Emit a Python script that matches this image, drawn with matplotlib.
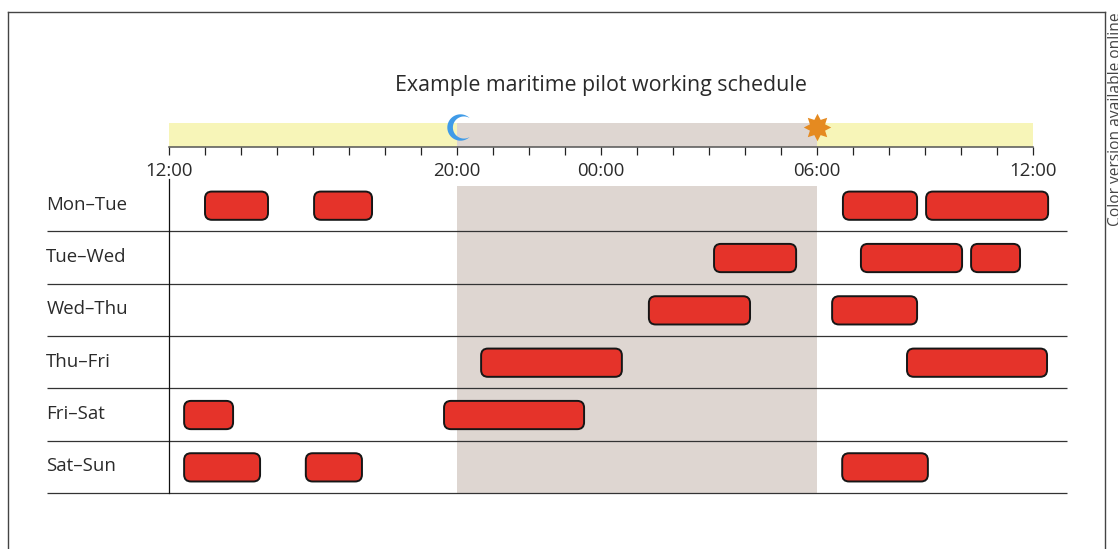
import numpy as np
import matplotlib
matplotlib.use("Agg")
import matplotlib.pyplot as plt
from matplotlib.lines import Line2D
from matplotlib.patches import FancyBboxPatch
from matplotlib.path import Path

plt.rcParams['font.family'] = ['Open Sans', 'DejaVu Sans']

W = 1118; H = 549
title = "Example maritime pilot working schedule"
side_note = "Color version available online"
days = ["Mon–Tue", "Tue–Wed", "Wed–Thu", "Thu–Fri", "Fri–Sat", "Sat–Sun"]
# shifts per row, hours after 12:00 (start, end)
shifts_mon = [(1.0, 2.75), (4.03, 5.64), (18.72, 20.78), (21.03, 24.42)]
shifts_tue = [(15.14, 17.42), (19.22, 22.03), (22.28, 23.64)]
shifts_wed = [(13.33, 16.14), (18.42, 20.78)]
shifts_thu = [(8.67, 12.58), (20.5, 24.39)]
shifts_fri = [(0.42, 1.78), (7.64, 11.53)]
shifts_sat = [(0.42, 2.53), (3.8, 5.36), (18.7, 21.08)]
shifts = [shifts_mon, shifts_tue, shifts_wed, shifts_thu, shifts_fri, shifts_sat]
night_start = 8
night_end = 18
tick_hours = list(range(25))
tick_names = {0: "12:00", 8: "20:00", 12: "00:00", 18: "06:00", 24: "12:00"}

YELLOW = "#f7f5b8"
NIGHT = "#ded6d1"
RED = "#e5332a"
TEXT = "#2a2a2a"

def box(l, t, r, b):
    return [l / W, 1 - b / H, (r - l) / W, (b - t) / H]

fig = plt.figure(figsize=(W / 100, H / 100), dpi=100)

# outer frame, bottom is cut off in the scan
for xs, ys in [((8, 8), (549, 11.5)), ((8, 1105), (11.5, 11.5)), ((1105, 1105), (11.5, 549))]:
    fig.add_artist(Line2D([x / W for x in xs], [1 - y / H for y in ys], color="#444444", lw=1.0))
fig.text(1108 / W, 1 - 12 / H, side_note, rotation=90, ha="left", va="top", fontsize=11.2, color="#444444")

# day / night band on top
top = fig.add_axes(box(169, 123, 1033, 147))
top.set_xlim(0, 24)
top.set_ylim(0, 1)
top.axvspan(0, night_start, color=YELLOW, lw=0)
top.axvspan(night_start, night_end, color=NIGHT, lw=0)
top.axvspan(night_end, 24, color=YELLOW, lw=0)
for s in ["top", "left", "right"]:
    top.spines[s].set_visible(False)
top.spines["bottom"].set_color("#555555")
top.spines["bottom"].set_linewidth(1.1)
top.set_yticks([])
top.set_xticks(tick_hours)
top.set_xticklabels([tick_names.get(h, "") for h in tick_hours], fontsize=13.4, color=TEXT)
top.tick_params(axis="x", length=6, width=0.9, color="#222222", pad=5)
top.set_title(title, fontsize=15.4, color=TEXT, pad=23)

# moon and sun
a = np.linspace(np.radians(45.6), np.radians(314.4), 40)
b = np.linspace(np.radians(301.6), np.radians(58.4), 40)
outer = np.c_[np.cos(a), np.sin(a)]
inner = np.c_[0.261 + 0.838 * np.cos(b), 0.838 * np.sin(b)]
moon = Path(np.r_[outer, inner, outer[:1]])
sun = Path.unit_regular_star(8, innerCircle=0.6)
top.scatter([8.07], [0.83], marker=moon, s=360, color="#3f9be8", lw=0, clip_on=False, zorder=5)
top.scatter([night_end], [0.83], marker=sun, s=390, color="#e58a20", lw=0, clip_on=False, zorder=5)

# schedule rows
ax = fig.add_axes(box(169, 179, 1033, 493))
ax.set_xlim(0, 24)
ax.set_ylim(5.5, -0.5)
ax.patch.set_visible(False)
ax.axvspan(night_start, night_end, ymin=0, ymax=(493 - 186) / (493 - 179), color=NIGHT, lw=0, zorder=0)
for s in ["top", "right", "bottom"]:
    ax.spines[s].set_visible(False)
ax.spines["left"].set_color("#111111")
ax.spines["left"].set_linewidth(0.9)
ax.set_xticks([])
ax.set_yticks([])
ax.hlines(np.arange(0.5, 6), -3.39, 24.94, color="#333333", lw=0.9, clip_on=False, zorder=1)

for i, row in enumerate(shifts):
    ax.text(-3.41, i - 0.01, days[i], ha="left", va="center", fontsize=13.4, color=TEXT)
    for start, end in row:
        p = FancyBboxPatch((start, i + 0.01 - 0.27), end - start, 0.54,
                           boxstyle="round,pad=0,rounding_size=0.19", mutation_aspect=0.69,
                           fc=RED, ec="#161616", lw=1.4, clip_on=False, zorder=3)
        ax.add_patch(p)

fig.savefig("out.png", dpi=100)
